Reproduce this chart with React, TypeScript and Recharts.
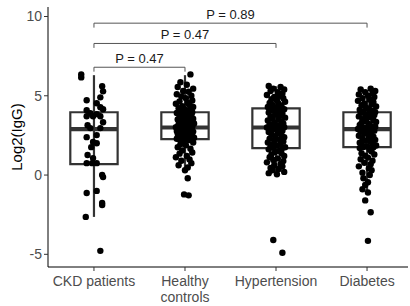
import React from 'react';
import {
  ComposedChart,
  Scatter,
  XAxis,
  YAxis,
  ReferenceArea,
  ReferenceLine,
  ReferenceDot,
} from 'recharts';

const categories = ['CKD patients', 'Healthy controls', 'Hypertension', 'Diabetes'];

// box statistics
const boxLow = [-2.64, 0.3, 0.05, -1.1];
const boxQ1 = [0.69, 2.26, 1.7, 1.76];
const boxMedian = [2.9, 3.0, 3.0, 2.9];
const boxQ3 = [3.96, 3.96, 4.2, 3.96];
const boxHigh = [6.3, 6.3, 5.6, 5.3];

const ckdValues = [6.35, 6.16, 5.6, 5.28, 4.72, 4.9, 4.53, 4.09, 4.28, 3.9, 3.84, 4.15, 3.71, 3.71, 3.71, 3.33, 3.14, 2.96, 2.96, 2.39, 2.52, 2.08, 2.01, 1.76, 1.26, 1.07, 0.75, 0.75, 0.75, 0.0, -0.13, -1.13, -1.0, -1.76, -1.89, -2.64, -4.78];
const ckdJitter = [-0.14, -0.14, 0.09, 0.1, -0.08, 0.07, 0.03, -0.08, 0.07, -0.04, 0.03, 0.1, -0.08, -0.01, 0.07, 0.1, -0.07, -0.04, 0.07, -0.08, 0.03, -0.01, 0.03, -0.03, -0.07, -0.01, -0.08, -0.02, 0.03, 0.09, 0.1, -0.08, 0.03, 0.09, 0.09, -0.09, 0.07];

const healthyValues = [6.35, 5.85, 5.7, 5.55, 5.45, 5.3, 5.25, 5.1, 5.0, 4.95, 4.85, 4.7, 4.65, 4.55, 4.5, 4.42, 4.35, 4.3, 4.22, 4.15, 4.1, 4.02,
  3.96, 3.92, 3.88, 3.8, 3.78, 3.7, 3.66, 3.6, 3.55, 3.5, 3.46, 3.4, 3.38, 3.3, 3.25, 3.2, 3.18, 3.12, 3.08, 3.05, 3.02, 3.0,
  2.96, 2.92, 2.88, 2.82, 2.78, 2.74, 2.7, 2.66, 2.62, 2.6, 2.55, 2.52, 2.48, 2.45, 2.42, 2.4, 2.36, 2.34, 2.31, 2.29, 2.27, 2.26,
  2.2, 2.12, 2.05, 1.95, 1.88, 1.75, 1.66, 1.55, 1.42, 1.35, 1.2, 1.12, 0.98, 0.9, 0.75, 0.62, 0.48, 0.3, -0.2, -1.22, -1.28];
const healthyJitter = [0.06, -0.05, 0.02, -0.08, 0.09, -0.02, 0.04, -0.09, 0.07, -0.04, 0.01, 0.08, -0.06, 0.03, -0.1, 0.05, -0.03, 0.09, -0.07, 0.0, 0.06, -0.05,
  0.08, -0.09, 0.02, -0.03, 0.07, -0.06, 0.04, -0.01, 0.09, -0.08, 0.03, -0.05, 0.06, -0.02, 0.1, -0.07, 0.01, 0.05, -0.04, 0.08, -0.1, 0.03,
  -0.06, 0.07, -0.02, 0.04, -0.09, 0.09, -0.05, 0.0, 0.06, -0.08, 0.02, -0.03, 0.08, -0.07, 0.05, -0.01, 0.1, -0.04, 0.03, -0.09, 0.07, -0.06,
  0.04, -0.02, 0.09, -0.05, 0.01, -0.08, 0.06, -0.03, 0.08, -0.06, 0.02, -0.1, 0.05, -0.04, 0.07, -0.07, 0.03, 0.0, 0.03, -0.01, 0.04];

const hypertensionValues = [5.62, 5.55, 5.45, 5.4, 5.3, 5.22, 5.15, 5.05, 5.0, 4.92, 4.85, 4.78, 4.7, 4.62, 4.55, 4.5, 4.42, 4.36, 4.3, 4.26, 4.22, 4.2,
  4.15, 4.08, 4.0, 3.95, 3.88, 3.82, 3.75, 3.7, 3.62, 3.58, 3.5, 3.44, 3.38, 3.3, 3.25, 3.2, 3.15, 3.1, 3.06, 3.02, 3.0,
  2.95, 2.88, 2.8, 2.72, 2.65, 2.58, 2.5, 2.45, 2.38, 2.3, 2.25, 2.18, 2.12, 2.05, 2.0, 1.92, 1.86, 1.8, 1.75, 1.72, 1.7,
  1.62, 1.52, 1.45, 1.38, 1.3, 1.2, 1.12, 1.05, 0.95, 0.88, 0.8, 0.7, 0.62, 0.55, 0.45, 0.38, 0.3, 0.2, 0.12, 0.05, -4.1, -4.9];
const hypertensionJitter = [-0.08, 0.05, -0.03, 0.09, -0.06, 0.02, 0.07, -0.1, 0.04, -0.02, 0.08, -0.05, 0.01, 0.1, -0.07, 0.03, -0.04, 0.06, -0.09, 0.0, 0.05, -0.06,
  0.09, -0.03, 0.02, -0.08, 0.07, -0.01, 0.04, -0.06, 0.1, -0.04, 0.03, -0.09, 0.06, -0.02, 0.08, -0.07, 0.01, 0.05, -0.05, 0.09, -0.1,
  0.03, -0.03, 0.07, -0.08, 0.02, -0.05, 0.06, -0.01, 0.09, -0.07, 0.04, -0.02, 0.08, -0.09, 0.05, -0.04, 0.01, -0.06, 0.1, -0.03, 0.07,
  -0.08, 0.04, -0.01, 0.06, -0.05, 0.09, -0.07, 0.02, -0.03, 0.08, -0.1, 0.05, -0.02, 0.07, -0.06, 0.03, -0.04, 0.09, -0.08, 0.01, -0.03, 0.07];

const diabetesValues = [5.45, 5.4, 5.3, 5.22, 5.15, 5.08, 5.0, 4.92, 4.85, 4.75, 4.68, 4.6, 4.52, 4.45, 4.4, 4.32, 4.25, 4.18, 4.12, 4.05, 4.0, 3.97,
  3.94, 3.88, 3.82, 3.78, 3.7, 3.65, 3.58, 3.52, 3.46, 3.4, 3.35, 3.28, 3.22, 3.16, 3.1, 3.05, 3.0, 2.96, 2.92, 2.9,
  2.86, 2.8, 2.74, 2.68, 2.6, 2.55, 2.48, 2.42, 2.35, 2.28, 2.22, 2.16, 2.1, 2.04, 1.98, 1.92, 1.86, 1.8, 1.77, 1.76,
  1.7, 1.6, 1.48, 1.38, 1.3, 1.22, 1.1, 1.0, 0.9, 0.78, 0.68, 0.55, 0.42, 0.3, 0.15, 0.0, -0.2, -0.45, -0.62, -0.9, -1.1, -1.6, -2.35, -4.15];
const diabetesJitter = [0.04, -0.07, 0.09, -0.02, 0.06, -0.09, 0.01, 0.08, -0.05, 0.03, -0.1, 0.07, -0.03, 0.05, -0.06, 0.1, -0.01, 0.02, -0.08, 0.06, -0.04, 0.09,
  -0.07, 0.03, -0.02, 0.08, -0.09, 0.05, 0.0, -0.05, 0.07, -0.03, 0.1, -0.06, 0.02, -0.08, 0.04, 0.09, -0.01, -0.04,
  0.06, -0.1, 0.03, 0.08, -0.07, 0.01, -0.03, 0.05, -0.09, 0.07, 0.02, -0.05, 0.09, -0.02, 0.04, -0.08, 0.06, -0.06, 0.1, 0.0,
  -0.04, 0.07, -0.08, 0.03, 0.05, -0.06, 0.08, -0.02, 0.01, -0.07, 0.06, -0.03, 0.04, -0.09, 0.02, 0.05, -0.05, 0.03, -0.04, 0.01, -0.02, -0.05, 0.01, -0.02, 0.04, 0.01];

// significance brackets
const bracketFrom = [1, 1, 1];
const bracketTo = [4, 3, 2];
const bracketY = [9.58, 8.3, 6.8];
const bracketLabels = ['P = 0.89', 'P = 0.47', 'P = 0.47'];

const yTicks = [-5, 0, 5, 10];
const xTicks = [1, 2, 3, 4];
const yTitle = 'Log2(IgG)';

const groupValues = [ckdValues, healthyValues, hypertensionValues, diabetesValues];
const groupJitter = [ckdJitter, healthyJitter, hypertensionJitter, diabetesJitter];

const points = groupValues.flatMap((vals, g) =>
  vals.map((v, i) => ({ x: g + 1 + groupJitter[g][i], y: v }))
);

const FONT = '"Liberation Sans", Arial, sans-serif';
const BOX_HALF = 0.26;
const TICK_DROP = 0.28;

const XTick = (props: any) => {
  const { x, y, payload } = props;
  const name: string = categories[Math.round(payload.value) - 1] || '';
  const lines = name.length > 12 ? name.split(' ') : [name];
  return (
    <text x={x} y={y} textAnchor="middle" fill="#4d4d4d" fontSize={14} fontFamily={FONT}>
      {lines.map((l, i) => (
        <tspan key={i} x={x} dy={i === 0 ? 13 : 16}>
          {l}
        </tspan>
      ))}
    </text>
  );
};

const YTitle = (props: any) => {
  const vb = props.viewBox || { x: 0, y: 7, width: 48, height: 260 };
  const cx = 16;
  const cy = vb.y + vb.height / 2;
  return (
    <text
      x={cx}
      y={cy}
      transform={`rotate(-90, ${cx}, ${cy})`}
      textAnchor="middle"
      dominantBaseline="central"
      fill="#000"
      fontSize={15}
      fontFamily={FONT}
    >
      {yTitle}
    </text>
  );
};

const Dot = (props: any) => <circle cx={props.cx} cy={props.cy} r={3.2} fill="#000" />;

export default function App() {
  return (
    <div style={{ position: 'absolute', left: 0, top: 0, width: 410, height: 306, background: '#fff' }}>
      <ComposedChart width={410} height={306} margin={{ top: 7, right: 2, bottom: 0, left: 0 }}>
        <XAxis
          type="number"
          dataKey="x"
          domain={[0.495, 4.45]}
          ticks={xTicks}
          allowDataOverflow
          height={39}
          tick={<XTick />}
          tickSize={4}
          axisLine={{ stroke: '#000', strokeWidth: 1 }}
          tickLine={{ stroke: '#333' }}
        />
        <YAxis
          type="number"
          dataKey="y"
          domain={[-5.8, 10.6]}
          ticks={yTicks}
          allowDataOverflow
          width={48}
          tickSize={4}
          tick={{ fill: '#4d4d4d', fontSize: 14, fontFamily: FONT }}
          axisLine={{ stroke: '#000', strokeWidth: 1 }}
          tickLine={{ stroke: '#333' }}
          label={{ value: yTitle, content: <YTitle /> }}
        />
        {categories.map((c, g) => (
          <ReferenceLine
            key={'wl' + g}
            segment={[{ x: g + 1, y: boxLow[g] }, { x: g + 1, y: boxHigh[g] }]}
            stroke="#333"
            strokeWidth={2.2}
          />
        ))}
        {categories.map((c, g) => (
          <ReferenceArea
            key={'box' + g}
            x1={g + 1 - BOX_HALF}
            x2={g + 1 + BOX_HALF}
            y1={boxQ1[g]}
            y2={boxQ3[g]}
            fill="#fff"
            fillOpacity={1}
            stroke="#333"
            strokeWidth={2.2}
          />
        ))}
        {categories.map((c, g) => (
          <ReferenceLine
            key={'med' + g}
            segment={[{ x: g + 1 - BOX_HALF, y: boxMedian[g] }, { x: g + 1 + BOX_HALF, y: boxMedian[g] }]}
            stroke="#333"
            strokeWidth={4.2}
          />
        ))}
        {bracketY.map((by, b) => (
          <ReferenceLine
            key={'bh' + b}
            segment={[{ x: bracketFrom[b], y: by }, { x: bracketTo[b], y: by }]}
            stroke="#555"
            strokeWidth={1}
          />
        ))}
        {bracketY.map((by, b) => (
          <ReferenceLine
            key={'bl' + b}
            segment={[{ x: bracketFrom[b], y: by }, { x: bracketFrom[b], y: by - TICK_DROP }]}
            stroke="#555"
            strokeWidth={1}
          />
        ))}
        {bracketY.map((by, b) => (
          <ReferenceLine
            key={'br' + b}
            segment={[{ x: bracketTo[b], y: by }, { x: bracketTo[b], y: by - TICK_DROP }]}
            stroke="#555"
            strokeWidth={1}
          />
        ))}
        {bracketY.map((by, b) => (
          <ReferenceDot
            key={'bt' + b}
            x={(bracketFrom[b] + bracketTo[b]) / 2}
            y={by}
            r={0}
            fill="none"
            stroke="none"
            label={{ value: bracketLabels[b], position: 'top', offset: 4, fill: '#1a1a1a', fontSize: 13, fontFamily: FONT }}
          />
        ))}
        <Scatter data={points} shape={<Dot />} isAnimationActive={false} />
      </ComposedChart>
    </div>
  );
}
